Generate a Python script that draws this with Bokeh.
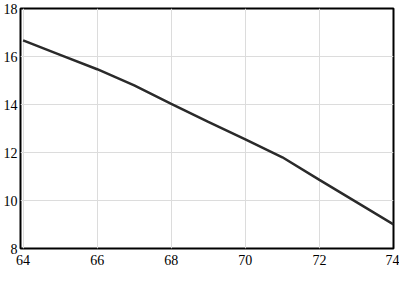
from bokeh.plotting import figure
from bokeh.models import Range1d, FixedTicker
from bokeh.embed import file_html
from bokeh.resources import INLINE

x_vals = [64, 65, 66, 67, 68, 69, 70, 71, 72, 73, 74]
y_vals = [16.67, 16.07, 15.47, 14.8, 14.03, 13.28, 12.55, 11.8, 10.86, 9.93, 9.0]
x_ticks = [64, 66, 68, 70, 72, 74]
y_ticks = [8, 10, 12, 14, 16, 18]

FONT = "'Liberation Serif', 'Times New Roman', serif"

p = figure(width=399, height=267, output_backend="svg", toolbar_location=None,
           x_range=Range1d(63.93, 74), y_range=Range1d(8, 18),
           min_border_left=0, min_border_right=6, min_border_top=8, min_border_bottom=0)

p.line(x_vals, y_vals, line_color="#2a2a2a", line_width=2.5)

for ax in (p.xaxis[0], p.yaxis[0]):
    ax.axis_line_color = None
    ax.major_tick_line_color = None
    ax.minor_tick_line_color = None
    ax.major_tick_out = 0
    ax.major_tick_in = 0
    ax.minor_tick_out = 0
    ax.minor_tick_in = 0
    ax.major_label_text_font = FONT
    ax.major_label_text_font_size = "14px"
    ax.major_label_text_color = "black"

p.yaxis.major_label_standoff = 3
p.xaxis.major_label_standoff = 6

p.xaxis.ticker = FixedTicker(ticks=x_ticks)
p.yaxis.ticker = FixedTicker(ticks=y_ticks)

p.xgrid.ticker = FixedTicker(ticks=x_ticks)
p.ygrid.ticker = FixedTicker(ticks=y_ticks)
p.grid.grid_line_color = "#dcdcdc"
p.grid.grid_line_width = 1

p.outline_line_color = "black"
p.outline_line_width = 2
p.outline_line_alpha = 1
p.background_fill_color = "white"
p.border_fill_color = "white"

open("out.html", "w").write(file_html(p, INLINE))
